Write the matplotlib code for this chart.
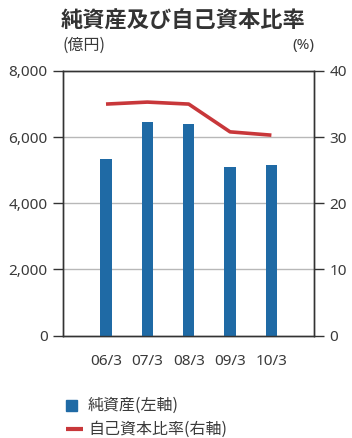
import matplotlib
matplotlib.use('Agg')
import matplotlib.pyplot as plt
import matplotlib.patches as mpatches
from matplotlib.lines import Line2D

plt.rcParams['font.family'] = ['Noto Sans', 'Noto Sans CJK JP', 'DejaVu Sans']

# data
periods = ['06/3', '07/3', '08/3', '09/3', '10/3']
net_assets = [5340, 6465, 6400, 5100, 5155]      # 億円, left axis
equity_ratio = [35.0, 35.3, 35.0, 30.8, 30.3]    # %, right axis
legend_labels = ['純資産(左軸)', '自己資本比率(右軸)']

bar_color = '#1f6aa5'
line_color = '#c8373a'
text_color = '#3a3a3a'
W, H = 352, 438

fig = plt.figure(figsize=(W / 100, H / 100), dpi=100)
ax = fig.add_axes([63 / W, 1 - 335.6 / H, 251 / W, 264.6 / H])
ax2 = ax.twinx()

x = range(len(periods))
ax.bar(x, net_assets, width=0.27, color=bar_color, zorder=3)
ax2.plot(x, equity_ratio, color=line_color, linewidth=2.6, solid_capstyle='butt')

ax.set_xlim(-1.04, 5.03)
ax.set_ylim(0, 8000)
ax2.set_ylim(0, 40)
ax.set_yticks([0, 2000, 4000, 6000, 8000])
ax.set_yticklabels(['0', '2,000', '4,000', '6,000', '8,000'])
ax2.set_yticks([0, 10, 20, 30, 40])
ax.set_xticks(list(x))
ax.set_xticklabels(periods)

for g in [2000, 4000, 6000]:
    ax.axhline(g, color='#b8b8b8', linewidth=1.0, zorder=1)

for a in (ax, ax2):
    for s in a.spines.values():
        s.set_color('#333333')
        s.set_linewidth(1.0)
ax.tick_params(axis='y', length=7, width=1, color='#333333', labelsize=11,
               labelcolor=text_color, pad=4)
ax2.tick_params(axis='y', length=7, width=1, color='#333333', labelsize=11,
                labelcolor=text_color, pad=4)
ax.tick_params(axis='x', length=0, labelsize=11, labelcolor=text_color, pad=13)

fig.text(0.52, 1 - 21 / H, '純資産及び自己資本比率', ha='center', va='center',
         fontsize=16, fontweight='bold', color='#333333',
         family=['Noto Sans CJK JP'])
fig.text(63 / W, 1 - 45 / H, '(億円)', ha='left', va='center',
         fontsize=11.5, color=text_color, family=['Noto Sans CJK JP'])
fig.text(314 / W, 1 - 45 / H, '(%)', ha='right', va='center',
         fontsize=11, color=text_color)

# legend drawn by hand: small square for bars, short line for the ratio
fig.patches.append(mpatches.Rectangle((66 / W, 1 - 411 / H), 11 / W, 11 / H,
                                      transform=fig.transFigure,
                                      color=bar_color))
fig.lines.append(Line2D([66 / W, 83 / W], [1 - 429 / H, 1 - 429 / H],
                        transform=fig.transFigure, color=line_color,
                        linewidth=3, solid_capstyle='butt'))
fig.text(88 / W, 1 - 405.5 / H, legend_labels[0], ha='left', va='center',
         fontsize=11.5, color=text_color, family=['Noto Sans CJK JP'])
fig.text(88 / W, 1 - 429 / H, legend_labels[1], ha='left', va='center',
         fontsize=11.5, color=text_color, family=['Noto Sans CJK JP'])

fig.savefig('out.png', dpi=100)
plt.close(fig)
